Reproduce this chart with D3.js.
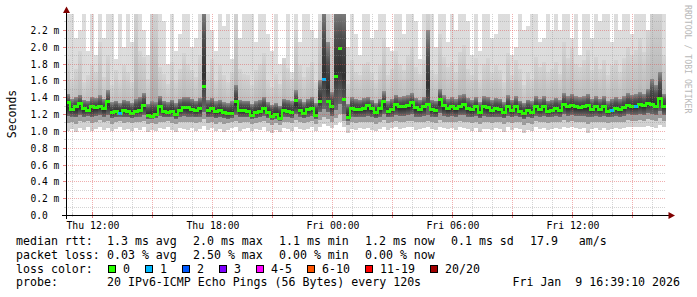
<!DOCTYPE html>
<html><head><meta charset="utf-8">
<script src="https://cdn.jsdelivr.net/npm/d3@7"></script>
<style>
body{margin:0;background:#fff}
svg{display:block}
text{font-family:"DejaVu Sans Mono",monospace;}
</style>
</head><body>
<svg id="chart" width="697" height="297"></svg>
<script>
// ---------- DATA (12-minute bins, Thu 10:39 .. Fri 16:39) ----------
const startTime = Date.UTC(2026,0,8,10,39,10);
const endTime   = Date.UTC(2026,0,9,16,39,10);

// median rtt (ms)
const median = [
1.34,1.26,1.30,1.33,1.27,1.25,1.29,1.28,1.30,1.27,1.36,1.22,1.24,1.21,1.25,
1.24,1.21,1.23,1.25,1.31,1.19,1.18,1.20,1.29,1.23,1.22,1.24,1.20,1.25,1.28,
1.28,1.26,1.25,1.27,1.53,1.25,1.27,1.23,1.25,1.22,1.21,1.21,1.35,1.25,1.25,
1.24,1.19,1.22,1.24,1.27,1.22,1.18,1.20,1.15,1.25,1.24,1.22,1.37,1.25,1.21,
1.26,1.27,1.19,1.36,1.62,1.35,1.30,1.65,1.98,1.38,1.16,1.27,1.26,1.26,1.27,
1.31,1.27,1.22,1.27,1.36,1.24,1.26,1.32,1.29,1.30,1.31,1.34,1.28,1.26,1.29,
1.32,1.26,1.25,1.38,1.31,1.27,1.29,1.27,1.30,1.32,1.27,1.26,1.29,1.22,1.29,
1.28,1.25,1.27,1.26,1.22,1.29,1.25,1.29,1.24,1.21,1.25,1.22,1.29,1.26,1.29,
1.24,1.25,1.27,1.25,1.32,1.29,1.31,1.29,1.28,1.29,1.31,1.26,1.29,1.26,1.29,
1.23,1.25,1.27,1.26,1.28,1.31,1.30,1.30,1.32,1.31,1.33,1.32,1.29,1.39,1.29];

// lost pings per bin (of 20)
const lossCount = [
0,0,0,0,0,0,0,0,0,0,0,0,0,1,0,
0,0,0,0,0,0,0,0,0,0,0,0,0,0,0,
0,0,0,0,0,0,0,0,0,0,0,0,0,0,0,
0,0,0,0,0,0,0,0,0,0,0,0,0,0,0,
0,0,0,0,1,0,0,0,0,0,0,0,0,0,0,
0,0,0,0,0,0,0,0,0,0,0,0,0,0,0,
0,0,0,0,0,0,0,0,0,0,0,0,0,0,0,
0,0,0,0,0,0,0,0,0,0,0,0,0,0,0,
0,0,0,0,0,0,0,0,0,0,0,0,0,0,0,
0,1,0,0,0,0,0,1,0,0,0,0,0,0,0];

// smoke: sorted ping ranks (ms)
const pingMin = [
1.00,1.02,0.99,1.03,1.01,1.04,1.00,1.02,1.05,1.01,1.03,1.00,1.02,1.04,1.01,
1.02,1.00,1.03,1.01,1.04,0.99,1.01,1.00,1.03,1.02,1.05,1.01,0.99,1.03,1.02,
1.01,1.03,1.00,1.02,1.06,1.01,1.03,1.00,1.02,0.99,1.01,1.03,1.04,1.00,1.02,
1.03,1.00,1.02,1.01,1.04,1.00,0.98,1.01,0.99,1.03,1.02,1.00,1.05,1.02,1.01,
1.02,1.04,1.00,1.05,1.08,1.06,1.03,1.07,1.10,1.04,0.98,1.02,1.01,1.03,1.02,
1.03,1.01,1.00,1.02,1.05,1.01,1.03,1.04,1.02,1.03,1.05,1.04,1.01,1.02,1.03,
1.04,1.02,1.01,1.05,1.03,1.02,1.03,1.01,1.04,1.03,1.02,1.00,1.03,0.99,1.02,
1.02,1.01,1.03,1.02,0.99,1.04,1.01,1.03,1.02,0.98,1.01,1.00,1.04,1.02,1.03,
1.01,1.02,1.03,1.02,1.05,1.03,1.04,1.03,1.02,1.03,0.97,1.02,1.03,1.01,1.03,
1.01,1.02,1.03,1.02,1.03,1.05,1.04,1.04,1.05,1.04,1.06,1.05,1.03,1.07,1.04];
const ping3 = [
1.09,1.11,1.08,1.12,1.10,1.12,1.09,1.11,1.13,1.10,1.12,1.08,1.10,1.12,1.09,
1.10,1.09,1.11,1.10,1.12,1.08,1.09,1.08,1.11,1.10,1.12,1.09,1.08,1.11,1.10,
1.10,1.11,1.09,1.10,1.14,1.09,1.11,1.08,1.10,1.08,1.09,1.10,1.12,1.09,1.10,
1.10,1.08,1.09,1.10,1.12,1.09,1.07,1.09,1.07,1.11,1.10,1.09,1.13,1.10,1.09,
1.10,1.12,1.08,1.13,1.16,1.14,1.11,1.15,1.20,1.12,1.07,1.10,1.09,1.11,1.10,
1.11,1.10,1.08,1.10,1.13,1.09,1.10,1.12,1.11,1.11,1.12,1.12,1.10,1.10,1.11,
1.12,1.10,1.09,1.13,1.11,1.10,1.11,1.10,1.12,1.11,1.10,1.09,1.11,1.08,1.11,
1.10,1.09,1.11,1.10,1.08,1.11,1.09,1.11,1.10,1.07,1.09,1.08,1.12,1.10,1.11,
1.09,1.10,1.11,1.10,1.13,1.11,1.12,1.11,1.11,1.11,1.08,1.10,1.11,1.10,1.11,
1.09,1.10,1.11,1.10,1.11,1.13,1.12,1.12,1.13,1.12,1.14,1.13,1.12,1.15,1.12];
const ping6 = [
1.18,1.17,1.16,1.19,1.17,1.18,1.16,1.18,1.19,1.17,1.19,1.15,1.16,1.17,1.16,
1.16,1.15,1.16,1.17,1.19,1.14,1.14,1.15,1.18,1.16,1.16,1.17,1.14,1.17,1.18,
1.17,1.17,1.16,1.17,1.22,1.16,1.17,1.15,1.16,1.15,1.14,1.15,1.19,1.16,1.16,
1.16,1.14,1.15,1.16,1.18,1.15,1.13,1.14,1.12,1.17,1.16,1.15,1.20,1.17,1.15,
1.17,1.18,1.14,1.22,1.26,1.22,1.18,1.25,1.32,1.20,1.12,1.17,1.16,1.17,1.17,
1.18,1.17,1.15,1.17,1.20,1.16,1.17,1.19,1.18,1.18,1.19,1.20,1.17,1.17,1.18,
1.19,1.17,1.16,1.21,1.18,1.17,1.18,1.17,1.19,1.19,1.17,1.16,1.18,1.15,1.18,
1.17,1.16,1.17,1.17,1.15,1.18,1.16,1.18,1.16,1.14,1.16,1.15,1.18,1.17,1.18,
1.16,1.17,1.18,1.17,1.20,1.18,1.19,1.18,1.18,1.18,1.17,1.17,1.18,1.17,1.18,
1.16,1.17,1.18,1.17,1.18,1.20,1.19,1.19,1.20,1.19,1.21,1.20,1.19,1.23,1.19];
const ping15 = [
1.44,1.38,1.40,1.43,1.37,1.36,1.40,1.39,1.42,1.38,1.48,1.34,1.36,1.33,1.37,
1.36,1.33,1.38,1.40,1.45,1.32,1.35,1.34,1.41,1.36,1.34,1.37,1.33,1.38,1.40,
1.40,1.38,1.36,1.39,2.50,1.37,1.39,1.35,1.37,1.34,1.33,1.35,1.55,1.37,1.36,
1.36,1.32,1.35,1.37,1.40,1.34,1.31,1.33,1.30,1.38,1.37,1.35,1.48,1.38,1.34,
1.38,1.40,1.33,1.60,2.50,2.05,1.46,2.50,2.50,2.50,1.32,1.40,1.38,1.37,1.39,
1.40,1.37,1.33,1.38,1.47,1.35,1.38,1.43,1.40,1.41,1.42,1.45,1.39,1.37,1.40,
2.20,1.37,1.36,1.50,1.42,1.38,1.40,1.38,1.42,1.44,1.39,1.37,1.40,1.34,1.41,
1.40,1.37,1.39,1.38,1.34,1.42,1.37,1.41,1.36,1.33,1.37,1.35,1.41,1.38,1.41,
1.36,1.37,1.39,1.37,1.45,1.41,1.44,1.41,1.40,1.41,1.44,1.38,1.41,1.38,1.41,
1.35,1.38,1.40,1.38,1.41,1.45,1.43,1.44,1.46,1.44,1.50,1.62,1.55,1.70,1.44];
const ping18 = [
1.85,1.62,1.74,1.95,1.58,1.66,1.80,1.70,2.05,1.64,1.90,1.55,1.72,1.60,1.78,
1.70,1.58,2.50,1.95,1.88,1.62,2.50,2.50,1.76,1.68,1.56,1.82,1.60,1.74,1.92,
1.80,1.72,1.64,1.90,2.50,1.70,1.85,1.60,1.78,1.66,1.58,1.70,2.50,1.74,1.68,
1.66,1.55,1.72,1.80,1.92,1.60,1.52,1.68,1.56,1.86,1.75,1.62,2.20,1.78,1.64,
1.76,1.82,1.58,2.30,2.50,2.50,2.10,2.50,2.50,2.50,1.56,1.84,1.70,1.66,1.80,
1.82,1.70,1.60,1.78,2.10,1.66,1.74,1.95,1.80,1.72,1.90,2.00,1.76,1.68,1.84,
2.50,1.72,1.68,2.15,1.88,1.76,1.82,1.70,1.94,2.02,1.74,1.66,1.86,1.60,1.80,
1.86,1.70,1.78,1.72,1.58,1.92,1.66,1.84,1.74,1.55,1.70,1.62,1.88,1.76,1.82,
1.70,1.74,1.82,1.68,2.05,1.86,1.98,1.80,1.76,1.84,1.96,1.72,1.88,1.74,1.84,
1.66,1.78,1.84,1.70,1.86,2.00,1.90,1.96,2.10,1.94,2.20,2.50,2.50,2.50,1.90];
const pingMax = [
2.50,2.50,2.10,2.20,2.50,1.95,2.50,1.90,2.50,2.10,2.50,2.50,1.85,2.50,2.00,
2.50,2.05,2.50,2.50,2.20,1.90,2.50,2.50,2.50,2.30,1.80,2.50,1.95,2.15,2.50,
2.50,2.00,2.10,2.50,2.50,2.50,2.20,1.95,2.50,2.25,2.50,1.85,2.50,2.10,2.40,
2.50,2.50,2.05,2.50,2.50,2.15,1.95,2.50,1.80,1.75,2.50,1.70,2.50,2.05,2.50,
2.50,2.20,2.10,2.50,2.50,2.50,2.50,2.50,2.50,2.50,2.00,2.50,2.15,1.90,2.50,
2.50,2.10,2.20,2.50,2.50,2.00,1.95,2.50,2.50,2.15,2.50,2.50,2.30,1.85,2.50,
2.50,2.50,2.00,2.50,2.50,2.05,2.50,2.20,2.50,2.50,2.30,1.90,2.50,1.95,2.50,
2.50,2.10,2.15,2.50,2.50,2.50,1.90,2.00,2.50,2.20,2.25,2.50,2.50,2.05,2.10,
2.50,2.20,2.50,2.20,2.50,2.50,2.10,2.50,1.90,2.50,2.50,2.10,2.50,2.30,2.50,
2.50,2.05,2.50,2.20,2.50,2.50,2.15,2.50,2.50,2.50,2.20,2.50,2.50,2.50,2.50];

// legend
const lossLabels = ["0","1","2","3","4-5","6-10","11-19","20/20"];
const lossColors = ["#26ff00","#00b8ff","#0059ff","#7e00ff","#ff00ff","#ff5500","#ff0000","#a10000"];
const rttStats  = ["1.3 ms avg","2.0 ms max","1.1 ms min","1.2 ms now","0.1 ms sd","17.9   am/s"];
const lossStats = ["0.03 % avg","2.50 % max","0.00 % min","0.00 % now"];
const probeText = "20 IPv6-ICMP Echo Pings (56 Bytes) every 120s";
const stampText = "Fri Jan  9 16:39:10 2026";
const yTickValues = [0,0.2,0.4,0.6,0.8,1.0,1.2,1.4,1.6,1.8,2.0,2.2];

// ---------- DRAW ----------
const svg = d3.select("#chart");
const N = median.length;
const x = d3.scaleUtc().domain([startTime, endTime]).range([66, 666]);
const y = d3.scaleLinear().domain([0, 2.4]).range([215, 13]);
const binT = i => startTime + i * (endTime - startTime) / N;
const lossColorOf = n => n === 0 ? lossColors[0] : n === 1 ? lossColors[1] : n === 2 ? lossColors[2] :
  n === 3 ? lossColors[3] : n <= 5 ? lossColors[4] : n <= 10 ? lossColors[5] : n < 20 ? lossColors[6] : lossColors[7];
const nb = s => s.replace(/ /g, "\u00a0");

const defs = svg.append("defs");
defs.append("clipPath").attr("id","plotClip")
  .append("rect").attr("x",66).attr("y",14).attr("width",600).attr("height",201);
function grad(id, stops) {
  const g = defs.append("linearGradient").attr("id", id).attr("x1",0).attr("x2",0).attr("y1",0).attr("y2",1);
  stops.forEach(([o, c]) => g.append("stop").attr("offset", o).attr("stop-color", c));
}
grad("gOuter", [[0,"#dddddd"],[0.85,"#dadada"],[1,"#cfcfcf"]]);
grad("gMid",   [[0,"#d4d4d4"],[0.55,"#bdbdbd"],[1,"#9a9a9a"]]);
grad("gCore",  [[0,"#8c8c8c"],[0.3,"#505050"],[0.65,"#313131"],[1,"#6a6a6a"]]);

const plot = svg.append("g").attr("clip-path","url(#plotClip)");
const bands = [
  {lo: pingMin, hi: pingMax, fill: "url(#gOuter)"},
  {lo: ping3,  hi: ping18,  fill: "url(#gMid)"},
  {lo: ping6,  hi: ping15,  fill: "url(#gCore)"}
];
bands.forEach(b => {
  plot.append("g").selectAll("rect").data(d3.range(N)).join("rect")
    .attr("shape-rendering","crispEdges")
    .attr("x", i => x(binT(i)))
    .attr("width", i => x(binT(i+1)) - x(binT(i)))
    .attr("y", i => y(b.hi[i]))
    .attr("height", i => y(b.lo[i]) - y(b.hi[i]))
    .attr("fill", b.fill);
});
// median: short connectors between neighbouring bins, then the blocks
const medY = i => Math.round(y(median[i]));
plot.append("g").selectAll("rect").data(d3.range(N - 1).filter(i => Math.abs(medY(i+1) - medY(i)) <= 9)).join("rect")
  .attr("shape-rendering","crispEdges")
  .attr("x", i => x(binT(i+1)) - 1)
  .attr("width", 2)
  .attr("y", i => Math.min(medY(i), medY(i+1)) - 1.5)
  .attr("height", i => Math.abs(medY(i+1) - medY(i)) + 3)
  .attr("fill", lossColors[0]);
plot.append("g").selectAll("rect").data(d3.range(N)).join("rect")
  .attr("shape-rendering","crispEdges")
  .attr("x", i => x(binT(i)))
  .attr("width", i => x(binT(i+1)) - x(binT(i)))
  .attr("y", i => medY(i) - 1.5)
  .attr("height", 3)
  .attr("fill", i => lossColorOf(lossCount[i]));

// grid (drawn over the data, semi-transparent like rrdtool)
const grid = svg.append("g").attr("shape-rendering","crispEdges");
const minorCol = "rgba(143,143,143,0.38)", majorCol = "rgba(222,79,79,0.45)";
d3.range(1, 24).forEach(k => {
  const yy = Math.round(y(k / 10)) + 0.5;
  grid.append("line").attr("x1",66).attr("x2",666).attr("y1",yy).attr("y2",yy)
    .attr("stroke", k % 2 === 0 ? majorCol : minorCol).attr("stroke-dasharray","1,1");
});
x.ticks(d3.utcHour.every(1)).forEach(t => {
  const xx = Math.round(x(t)) - 0.5;
  const major = t.getUTCHours() % 3 === 0;
  grid.append("line").attr("x1",xx).attr("x2",xx).attr("y1",14).attr("y2",215)
    .attr("stroke", major ? majorCol : minorCol).attr("stroke-dasharray","1,1");
  grid.append("line").attr("x1",xx).attr("x2",xx).attr("y1",major?212:213).attr("y2",major?218:217)
    .attr("stroke", major ? "rgba(222,79,79,0.7)" : minorCol);
});
d3.range(1, 24).forEach(k => {
  const yy = Math.round(y(k / 10)) + 0.5;
  grid.append("line").attr("x1",k%2===0?63:64).attr("x2",66).attr("y1",yy).attr("y2",yy)
    .attr("stroke", k % 2 === 0 ? "rgba(222,79,79,0.7)" : minorCol);
});

// axes
const ax = svg.append("g").attr("shape-rendering","crispEdges");
ax.append("line").attr("x1",62).attr("x2",670).attr("y1",215.5).attr("y2",215.5).attr("stroke","#000");
ax.append("line").attr("x1",66.5).attr("x2",66.5).attr("y1",11).attr("y2",219).attr("stroke","#000");
svg.append("path").attr("d","M66.5,6.5 L63,13 L70,13 Z").attr("fill","#800000");
svg.append("path").attr("d","M675,215.5 L668.5,212 L668.5,219 Z").attr("fill","#800000");

// y tick labels
svg.append("g").selectAll("text").data(yTickValues).join("text")
  .attr("x", 30.5).attr("y", v => Math.round(y(v)) + 4)
  .attr("font-size", "9.6px").attr("fill","#000")
  .text(v => v === 0 ? "0.0" : nb(v.toFixed(1) + " m"));

// x tick labels
const fmt = d3.utcFormat("%a %H:%M");
svg.append("g").selectAll("text").data(x.ticks(d3.utcHour.every(6))).join("text")
  .attr("x", t => x(t)).attr("y", 228.5).attr("text-anchor","middle")
  .attr("font-size","9.8px").attr("fill","#000")
  .text(t => nb(fmt(t)));

// axis title + watermark
svg.append("text").attr("transform","translate(15.5,114) rotate(-90)")
  .attr("text-anchor","middle").attr("font-size","11.5px").attr("fill","#000").text("Seconds");
svg.append("text").attr("transform","translate(685,5) rotate(90)")
  .attr("font-size","8.2px").attr("fill","#b8b8b8").text(nb("RRDTOOL / TOBI OETIKER"));

// legend
const cw = 7, lg = svg.append("g").attr("font-size","11.6px").attr("fill","#000");
const row = (label, items, yb) => {
  lg.append("text").attr("x",16).attr("y",yb).text(nb(label));
  let s = 107;
  items.forEach(it => { lg.append("text").attr("x",s).attr("y",yb).text(nb(it)); s += it.length*cw + 16; });
};
row("median rtt:", rttStats, 245);
row("packet loss:", lossStats, 258.5);
lg.append("text").attr("x",16).attr("y",272.5).text(nb("loss color:"));
let s = 107;
lossLabels.forEach((lab, i) => {
  lg.append("rect").attr("x", s + 1.5).attr("y", 265.5).attr("width", 7).attr("height", 7)
    .attr("fill", lossColors[i]).attr("stroke","#000").attr("stroke-width",1).attr("shape-rendering","crispEdges");
  lg.append("text").attr("x", s + 16).attr("y", 272.5).text(lab);
  s += 16 + lab.length*cw + 14;
});
lg.append("text").attr("x",16).attr("y",286).text("probe:");
lg.append("text").attr("x",107).attr("y",286).text(nb(probeText));
lg.append("text").attr("x",680).attr("y",286).attr("text-anchor","end").text(nb(stampText));
</script>
</body></html>
